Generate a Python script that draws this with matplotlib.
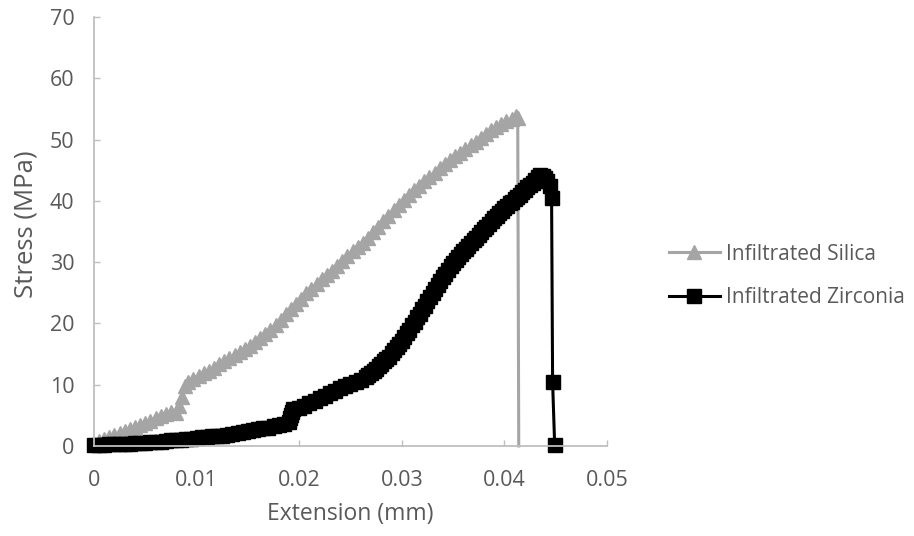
import matplotlib.pyplot as plt

plt.rcParams['font.family'] = ['Open Sans', 'DejaVu Sans']

# Infiltrated Silica (grey triangles)
silica_ext = [0.0000, 0.0005, 0.0010, 0.0015, 0.0020, 0.0025, 0.0030, 0.0035, 0.0040, 0.0045,
              0.0050, 0.0055, 0.0060, 0.0065, 0.0070, 0.0075, 0.0080, 0.0083, 0.0086, 0.0089,
              0.0092, 0.0097, 0.0102, 0.0107, 0.0112, 0.0117, 0.0122, 0.0127, 0.0132, 0.0137,
              0.0142, 0.0147, 0.0152, 0.0157, 0.0162, 0.0167, 0.0172, 0.0177, 0.0182, 0.0187,
              0.0192, 0.0197, 0.0202, 0.0207, 0.0212, 0.0217, 0.0222, 0.0227, 0.0232, 0.0237,
              0.0242, 0.0247, 0.0252, 0.0257, 0.0262, 0.0267, 0.0272, 0.0277, 0.0282, 0.0287,
              0.0292, 0.0297, 0.0302, 0.0307, 0.0312, 0.0317, 0.0322, 0.0327, 0.0332, 0.0337,
              0.0342, 0.0347, 0.0352, 0.0357, 0.0362, 0.0367, 0.0372, 0.0377, 0.0382, 0.0387,
              0.0392, 0.0397, 0.0402, 0.0407, 0.0411, 0.0413, 0.0414]
silica_stress = [0.3, 0.8, 1.2, 1.5, 1.8, 2.1, 2.4, 2.8, 3.1, 3.5,
                 3.8, 4.1, 4.5, 4.9, 5.2, 5.5, 5.4, 6.5, 8.0, 9.8,
                 10.5, 11.0, 11.5, 11.9, 12.3, 12.8, 13.3, 13.8, 14.3, 14.8,
                 15.3, 15.8, 16.3, 17.0, 17.6, 18.3, 19.0, 19.8, 20.6, 21.5,
                 22.3, 23.2, 24.0, 24.9, 25.7, 26.5, 27.2, 27.9, 28.6, 29.4,
                 30.2, 31.0, 31.8, 32.5, 33.2, 34.0, 34.9, 35.8, 36.7, 37.6,
                 38.5, 39.4, 40.2, 41.0, 41.8, 42.5, 43.2, 43.9, 44.6, 45.3,
                 46.0, 46.7, 47.3, 47.9, 48.5, 49.1, 49.7, 50.3, 50.9, 51.5,
                 52.0, 52.5, 53.0, 53.4, 53.8, 53.6, 0.0]

# Infiltrated Zirconia (black squares)
zirconia_ext = [0.0000, 0.0005, 0.0010, 0.0015, 0.0020, 0.0025, 0.0030, 0.0035, 0.0040, 0.0045,
                0.0050, 0.0055, 0.0060, 0.0065, 0.0070, 0.0075, 0.0080, 0.0085, 0.0090, 0.0095,
                0.0100, 0.0105, 0.0110, 0.0115, 0.0120, 0.0125, 0.0130, 0.0135, 0.0140, 0.0145,
                0.0150, 0.0155, 0.0160, 0.0165, 0.0170, 0.0175, 0.0180, 0.0185, 0.0190, 0.0191,
                0.0192, 0.0193, 0.0194, 0.0200, 0.0205, 0.0210, 0.0215, 0.0220, 0.0225, 0.0230,
                0.0235, 0.0240, 0.0245, 0.0250, 0.0255, 0.0260, 0.0265, 0.02675, 0.0270, 0.02725,
                0.0275, 0.02775, 0.0280, 0.02825, 0.0285, 0.02875, 0.0290, 0.02925, 0.0295, 0.02975,
                0.0300, 0.03025, 0.0305, 0.03075, 0.0310, 0.03125, 0.0315, 0.03175, 0.0320, 0.03225,
                0.0325, 0.03275, 0.0330, 0.03325, 0.0335, 0.03375, 0.0340, 0.03425, 0.0345, 0.03475,
                0.0350, 0.03525, 0.0355, 0.03575, 0.0360, 0.03625, 0.0365, 0.03675, 0.0370, 0.03725,
                0.0375, 0.03775, 0.0380, 0.03825, 0.0385, 0.03875, 0.0390, 0.03925, 0.0395, 0.03975,
                0.0400, 0.04025, 0.0405, 0.04075, 0.0410, 0.04125, 0.0415, 0.04175, 0.0420, 0.04225,
                0.0425, 0.04275, 0.0430, 0.04325, 0.0435, 0.04375, 0.0440, 0.0442, 0.0444, 0.0446,
                0.0447, 0.0449]
zirconia_stress = [0.2, 0.2, 0.2, 0.25, 0.3, 0.3, 0.35, 0.4, 0.45, 0.5,
                   0.55, 0.6, 0.65, 0.7, 0.8, 0.9, 0.95, 1.0, 1.1, 1.2,
                   1.3, 1.4, 1.5, 1.6, 1.65, 1.7, 1.8, 1.9, 2.1, 2.3,
                   2.5, 2.6, 2.8, 2.9, 3.0, 3.2, 3.4, 3.6, 3.9, 4.5,
                   5.0, 5.6, 6.0, 6.2, 6.6, 7.0, 7.4, 7.8, 8.2, 8.6,
                   9.0, 9.4, 9.8, 10.1, 10.4, 10.8, 11.3, 11.6, 11.9, 12.2,
                   12.6, 13.0, 13.4, 13.8, 14.2, 14.6, 15.1, 15.6, 16.1, 16.6,
                   17.2, 17.8, 18.4, 19.0, 19.7, 20.3, 21.0, 21.6, 22.3, 22.9,
                   23.6, 24.3, 25.0, 25.7, 26.3, 26.9, 27.5, 28.1, 28.7, 29.3,
                   29.8, 30.3, 30.8, 31.3, 31.8, 32.2, 32.7, 33.1, 33.6, 34.0,
                   34.5, 34.9, 35.4, 35.8, 36.3, 36.7, 37.2, 37.6, 38.0, 38.4,
                   38.8, 39.2, 39.6, 39.9, 40.3, 40.6, 41.0, 41.4, 41.8, 42.2,
                   42.6, 43.0, 43.4, 43.9, 44.3, 44.1, 43.8, 43.2, 42.5, 40.5,
                   10.4, 0.2]

x_ticks = [0, 0.01, 0.02, 0.03, 0.04, 0.05]
x_tick_labels = ['0', '0.01', '0.02', '0.03', '0.04', '0.05']
y_ticks = [0, 10, 20, 30, 40, 50, 60, 70]

text_col = '#595959'
axis_col = '#BFBFBF'

fig = plt.figure(figsize=(9.14, 5.36), dpi=100)
ax = fig.add_axes([0.1028, 0.168, 0.5613, 0.8])

ax.plot(silica_ext, silica_stress, color='#A5A5A5', lw=2.2, marker='^', ms=9.5,
        markevery=slice(0, len(silica_ext) - 1), label='Infiltrated Silica', clip_on=False)
ax.plot(zirconia_ext, zirconia_stress, color='black', lw=2.2, marker='s', ms=9.5,
        label='Infiltrated Zirconia', clip_on=False)

ax.set_xlim(0, 0.05)
ax.set_ylim(0, 70)
ax.set_xticks(x_ticks)
ax.set_xticklabels(x_tick_labels)
ax.set_yticks(y_ticks)

for s in ['top', 'right']:
    ax.spines[s].set_visible(False)
for s in ['left', 'bottom']:
    ax.spines[s].set_color(axis_col)
    ax.spines[s].set_linewidth(1.3)
ax.tick_params(direction='in', length=4, width=1, color=axis_col,
               labelcolor=text_col, labelsize=15.5)
ax.tick_params(axis='x', pad=17)
ax.tick_params(axis='y', pad=14)

ax.set_xlabel('Extension (mm)', fontsize=16.5, color=text_col, labelpad=8)
ax.set_ylabel('Stress (MPa)', fontsize=18.5, color=text_col)
ax.yaxis.set_label_coords(-0.109, 0.517)

fig.legend(loc='center left', bbox_to_anchor=(0.711, 0.485), frameon=False,
           fontsize=15, labelcolor=text_col, handlelength=2.45, handletextpad=0.3,
           labelspacing=1.1)

fig.savefig('out.png', dpi=100)
